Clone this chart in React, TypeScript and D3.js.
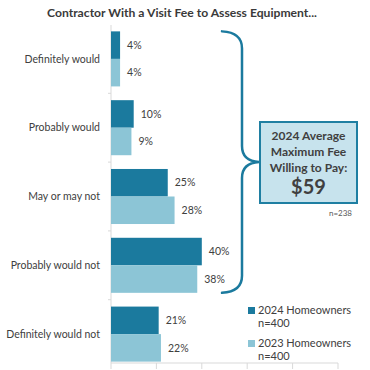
import * as d3 from 'd3';

// answer categories, top to bottom
const categories = [
  'Definitely would',
  'Probably would',
  'May or may not',
  'Probably would not',
  'Definitely would not',
];
const series = ['2024 Homeowners', '2023 Homeowners'];
const seriesN = ['n=400', 'n=400'];
const values2024 = [4, 10, 25, 40, 21];
const values2023 = [4, 9, 28, 38, 22];
const xTicks = [0, 20, 40, 60, 80, 100];

const calloutLines = ['2024 Average', 'Maximum Fee', 'Willing to Pay:'];
const calloutValue = '$59';
const calloutN = 'n=238';

const colors = ['#1b7a9e', '#8cc5d6'];
const font = 'Lato, "Open Sans", sans-serif';
const textColor = '#404040';

const W = 370;
const H = 370;

export default function App() {
  const x = d3.scaleLinear().domain([0, 100]).range([111, 338]);
  const y = d3
    .scaleBand<string>()
    .domain(categories)
    .range([30, 363])
    .paddingInner(0.2)
    .paddingOuter(0.02);
  const sub = d3.scaleBand<string>().domain(series).range([0, y.bandwidth()]);

  const data = [values2024, values2023];

  // brace spanning first four groups
  const top = y(categories[0])!;
  const bottom = y(categories[3])! + y.bandwidth();
  const mid = (top + bottom) / 2;
  const bx = 242;
  const p = d3.path();
  p.moveTo(222, top);
  p.quadraticCurveTo(bx, top + 1, bx, top + 17);
  p.lineTo(bx, mid - 16);
  p.quadraticCurveTo(bx, mid - 1, 259, mid);
  p.quadraticCurveTo(bx, mid + 1, bx, mid + 16);
  p.lineTo(bx, bottom - 17);
  p.quadraticCurveTo(bx, bottom - 1, 222, bottom);

  const boxX = 260;
  const boxY = 122;
  const boxW = 97;
  const boxH = 81;

  return (
    <svg
      width={W}
      height={H}
      style={{ position: 'absolute', left: 0, top: 0 }}
      fontFamily={font}
    >
      <rect width={W} height={H} fill='white' />
      <text
        x={182}
        y={17}
        textAnchor='middle'
        fontSize={12}
        fontWeight='bold'
        fill='#3a3a3a'
        textLength={270}
        lengthAdjust='spacingAndGlyphs'
      >
        Contractor With a Visit Fee to Assess Equipment...
      </text>

      {/* axes */}
      <line x1={111} x2={111} y1={25} y2={363} stroke='#d9d9d9' />
      {categories.slice(1).map((c) => {
        const yy = y(c)! - (y.step() - y.bandwidth()) / 2;
        return (
          <line key={c} x1={108} x2={111} y1={yy} y2={yy} stroke='#d9d9d9' />
        );
      })}
      <line x1={111} x2={338} y1={363} y2={363} stroke='#d9d9d9' />
      {xTicks.map((t) => (
        <line
          key={t}
          x1={x(t)}
          x2={x(t)}
          y1={363}
          y2={369}
          stroke='#d9d9d9'
        />
      ))}

      {/* bars */}
      {categories.map((c, i) => (
        <g key={c}>
          <text
            x={100}
            y={y(c)! + y.bandwidth() / 2}
            dy='0.35em'
            textAnchor='end'
            fontSize={10.5}
            fill={textColor}
          >
            {c}
          </text>
          {series.map((s, j) => {
            const v = data[j][i];
            const yy = y(c)! + sub(s)!;
            return (
              <g key={s}>
                <rect
                  x={x(0)}
                  y={yy}
                  width={x(v) - x(0)}
                  height={sub.bandwidth()}
                  fill={colors[j]}
                />
                <text
                  x={x(v) + 7}
                  y={yy + sub.bandwidth() / 2}
                  dy='0.35em'
                  fontSize={10.5}
                  fill={textColor}
                >
                  {v}%
                </text>
              </g>
            );
          })}
        </g>
      ))}

      {/* brace + callout */}
      <path
        d={p.toString()}
        fill='none'
        stroke='#1b7a9e'
        strokeWidth={2.5}
        strokeLinecap='round'
      />
      <rect
        x={boxX}
        y={boxY}
        width={boxW}
        height={boxH}
        fill='#c7e3ed'
        stroke='#1f7fa2'
        strokeWidth={2}
      />
      {calloutLines.map((l, i) => (
        <text
          key={l}
          x={boxX + boxW / 2}
          y={boxY + 18 + i * 16}
          textAnchor='middle'
          fontSize={12}
          fontWeight='bold'
          fill={textColor}
        >
          {l}
        </text>
      ))}
      <text
        x={boxX + boxW / 2}
        y={boxY + 72}
        textAnchor='middle'
        fontSize={20}
        fontWeight='bold'
        fill={textColor}
      >
        {calloutValue}
      </text>
      <text x={352} y={216} textAnchor='end' fontSize={8} fill='#595959'>
        {calloutN}
      </text>

      {/* legend */}
      {series.map((s, j) => (
        <g key={s} transform={`translate(248, ${307 + j * 33})`}>
          <rect width={7} height={7} fill={colors[j]} />
          <text x={10} y={7} fontSize={11} fill={textColor}>
            {s}
          </text>
          <text x={10} y={20} fontSize={11} fill={textColor}>
            {seriesN[j]}
          </text>
        </g>
      ))}
    </svg>
  );
}
